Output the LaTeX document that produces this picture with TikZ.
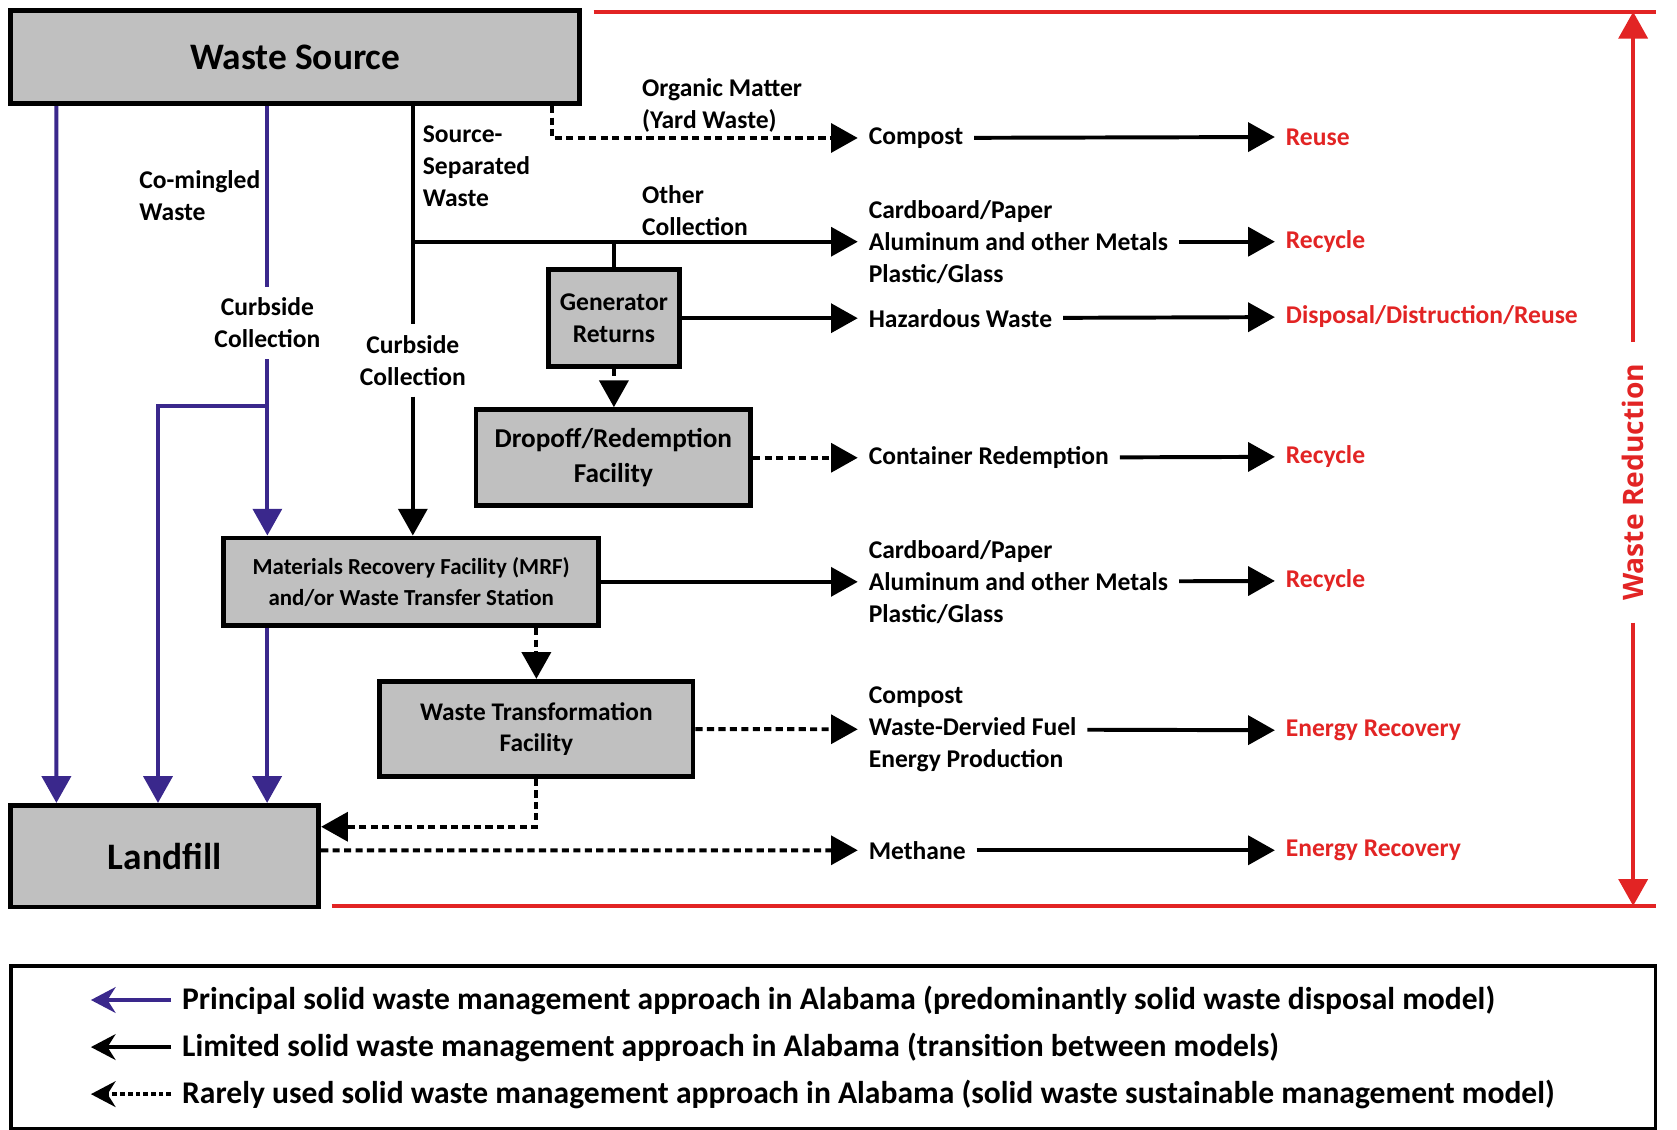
\documentclass[tikz,border=0pt]{standalone}
\usepackage{fontspec}
\setmainfont{Carlito}
\newfontfamily\wrfont{Open Sans}
\usetikzlibrary{arrows.meta}
\definecolor{kasten}{RGB}{192,192,192}
\definecolor{lila}{RGB}{58,40,140}
\definecolor{rot}{RGB}{226,36,36}
\begin{document}
\begin{tikzpicture}[x=0.02cm,y=-0.02cm,
  kiste/.style={draw,line width=2.6pt,fill=kasten,align=center,inner sep=0pt},
  lbl/.style={font=\bfseries\fontsize{13.6}{17}\selectfont,align=left,inner xsep=0.2cm,inner ysep=0.2cm},
  ziel/.style={lbl,anchor=west},
  erg/.style={font=\bfseries\fontsize{13.6}{17}\selectfont,text=rot,inner xsep=0.2cm,anchor=west},
  spitze/.style={-{Triangle[length=0.5cm,width=0.54cm]}},
  prin/.style={lila,line width=2.1pt,spitze},
  lim/.style={black,line width=2.1pt,spitze},
  selt/.style={black,line width=2.1pt,dash pattern=on 3.8pt off 2.3pt,spitze},
  rotlin/.style={rot,line width=2pt},
  rotpf/.style={rotlin,spitze},
  leg/.style={anchor=west,inner xsep=0.2cm,font=\bfseries\fontsize{16.8}{20}\selectfont},
  legpf/.style={line width=2.1pt,-{Stealth[length=0.46cm,width=0.48cm]}}]
\useasboundingbox (0,0) rectangle (1568,1056);
% Kaesten
\node[kiste,minimum width=10.64cm,minimum height=1.74cm,font=\bfseries\fontsize{19.9}{24}\selectfont] (quelle) at (276,53.5) {Waste Source};
\node[kiste,minimum width=5.76cm,minimum height=1.9cm,font=\bfseries\fontsize{19.9}{24}\selectfont] (deponie) at (154,800.5) {Landfill};
\node[kiste,minimum width=2.46cm,minimum height=1.82cm,font=\bfseries\fontsize{13.6}{17}\selectfont] (rueck) at (574,297.5) {Generator\\Returns};
\node[kiste,minimum width=5.14cm,minimum height=1.8cm,font=\bfseries\fontsize{14.5}{18.8}\selectfont] (abgabe) at (573.5,428) {Dropoff/Redemption\\Facility};
\node[kiste,minimum width=7.02cm,minimum height=1.64cm,font=\bfseries\fontsize{12.2}{16.5}\selectfont] (mrf) at (384.5,544) {Materials Recovery Facility (MRF)\\and/or Waste Transfer Station};
\node[kiste,minimum width=5.86cm,minimum height=1.78cm,font=\bfseries\fontsize{13.5}{16.5}\selectfont] (umwand) at (501.5,681.5) {Waste Transformation\\Facility};
% Beschriftungen der Wege
\node[lbl,anchor=west] (organ) at (590,98.5) {Organic Matter\\(Yard Waste)};
\node[lbl,anchor=west] (getrennt) at (385,155) {Source-\\Separated\\Waste};
\node[lbl,anchor=west] (gemischt) at (120,182.5) {Co-mingled\\Waste};
\node[lbl,anchor=west] (andere) at (590,196.5) {Other\\Collection};
\node[lbl,align=center] (kerbA) at (250,302) {Curbside\\Collection};
\node[lbl,align=center] (kerbB) at (386,337) {Curbside\\Collection};
% Stoffstroeme
\node[ziel] (kompost) at (802,129) {Compost};
\node[ziel] (mat1) at (802,226) {Cardboard/Paper\\Aluminum and other Metals\\Plastic/Glass};
\node[ziel] (sonder) at (802,297.5) {Hazardous Waste};
\node[ziel] (behael) at (802,428) {Container Redemption};
\node[ziel] (mat2) at (802,544) {Cardboard/Paper\\Aluminum and other Metals\\Plastic/Glass};
\node[ziel] (brenn) at (802,682) {Compost\\Waste-Dervied Fuel\\Energy Production};
\node[ziel] (methan) at (802,795) {Methane};
% Ergebnisse (rot)
\node[erg] (r1) at (1192,128) {Reuse};
\node[erg] (r2) at (1192,226) {Recycle};
\node[erg] (r3) at (1192,296) {Disposal/Distruction/Reuse};
\node[erg] (r4) at (1192,427) {Recycle};
\node[erg] (r5) at (1192,543) {Recycle};
\node[erg] (r6) at (1192,683) {Energy Recovery};
\node[erg] (r7) at (1192,795) {Energy Recovery};
% Hauptweg (lila)
\draw[prin] ([xshift=0.9cm]quelle.south west) -- ([xshift=0.9cm]deponie.north west);
\draw[prin,-] (kerbA.north |- quelle.south) -- (kerbA.north);
\draw[prin] (kerbA.south) -- (kerbA.south |- mrf.north);
\coordinate (abzw) at (250,380);
\draw[prin] (abzw) -| ([xshift=2.8cm]deponie.north west);
\coordinate (mrfL) at ([xshift=0.86cm]mrf.south west);
\draw[prin] (mrfL) -- (mrfL |- deponie.north);
% eingeschraenkter Weg (schwarz)
\draw[lim,-] (kerbB.north |- quelle.south) -- (kerbB.north);
\draw[lim] (kerbB.south) -- (kerbB.south |- mrf.north);
\draw[lim] (kerbB.north |- mat1) -- (mat1);
\draw[lim,-] (rueck.north |- mat1) -- (rueck.north);
\draw[lim] (rueck) -- (sonder);
\draw[lim] (mrf) -- (mat2);
% seltener Weg (gestrichelt)
\draw[selt] ([xshift=-0.56cm]quelle.south east) |- (kompost);
\draw[selt] (rueck.south) -- (rueck.south |- abgabe.north);
\draw[selt] (abgabe) -- (behael);
\draw[selt] (umwand.north |- mrf.south) -- (umwand.north);
\draw[selt] (umwand) -- (brenn);
\draw[selt] (umwand.south) |- ([yshift=0.55cm]deponie.east);
\draw[selt] ([yshift=0.11cm]deponie.east) -- (methan);
% zweite Spalte
\draw[lim] (kompost) -- (r1);
\draw[lim] (mat1) -- (r2);
\draw[lim] (sonder) -- (r3);
\draw[lim] (behael) -- (r4);
\draw[lim] (mat2) -- (r5);
\draw[lim] (brenn) -- (r6);
\draw[lim] (methan) -- (r7);
% Abfallvermeidung (rot)
\coordinate (rot1) at (555,11);
\coordinate (rot2) at (1548,11);
\coordinate (rot3) at (310,847);
\coordinate (rot4) at (1548,847);
\draw[rotlin] (rot1) -- (rot2);
\draw[rotlin] (rot3) -- (rot4);
\node[rotate=90,text=rot,font=\wrfont\bfseries\fontsize{15}{18}\selectfont,inner xsep=0.4cm] (wr) at (1527,451) {Waste Reduction};
\draw[rotpf] (wr.east) -- (wr.east |- rot2);
\draw[rotpf] (wr.west) -- (wr.west |- rot4);
% Legende
\node[draw,line width=1.8pt,minimum width=30.76cm,minimum height=3.04cm,inner sep=0pt] (legende) at (779,979) {};
\node[leg] (l1) at (160,935) {Principal solid waste management approach in Alabama (predominantly solid waste disposal model)};
\node[leg] (l2) at (160,979) {Limited solid waste management approach in Alabama (transition between models)};
\node[leg] (l3) at (160,1023) {Rarely used solid waste management approach in Alabama (solid waste sustainable management model)};
\draw[legpf,lila] (l1.west) -- ++(-75,0);
\draw[legpf] (l2.west) -- ++(-75,0);
\draw[legpf,dash pattern=on 2.5pt off 1.6pt] (l3.west) -- ++(-75,0);
\end{tikzpicture}
\end{document}
